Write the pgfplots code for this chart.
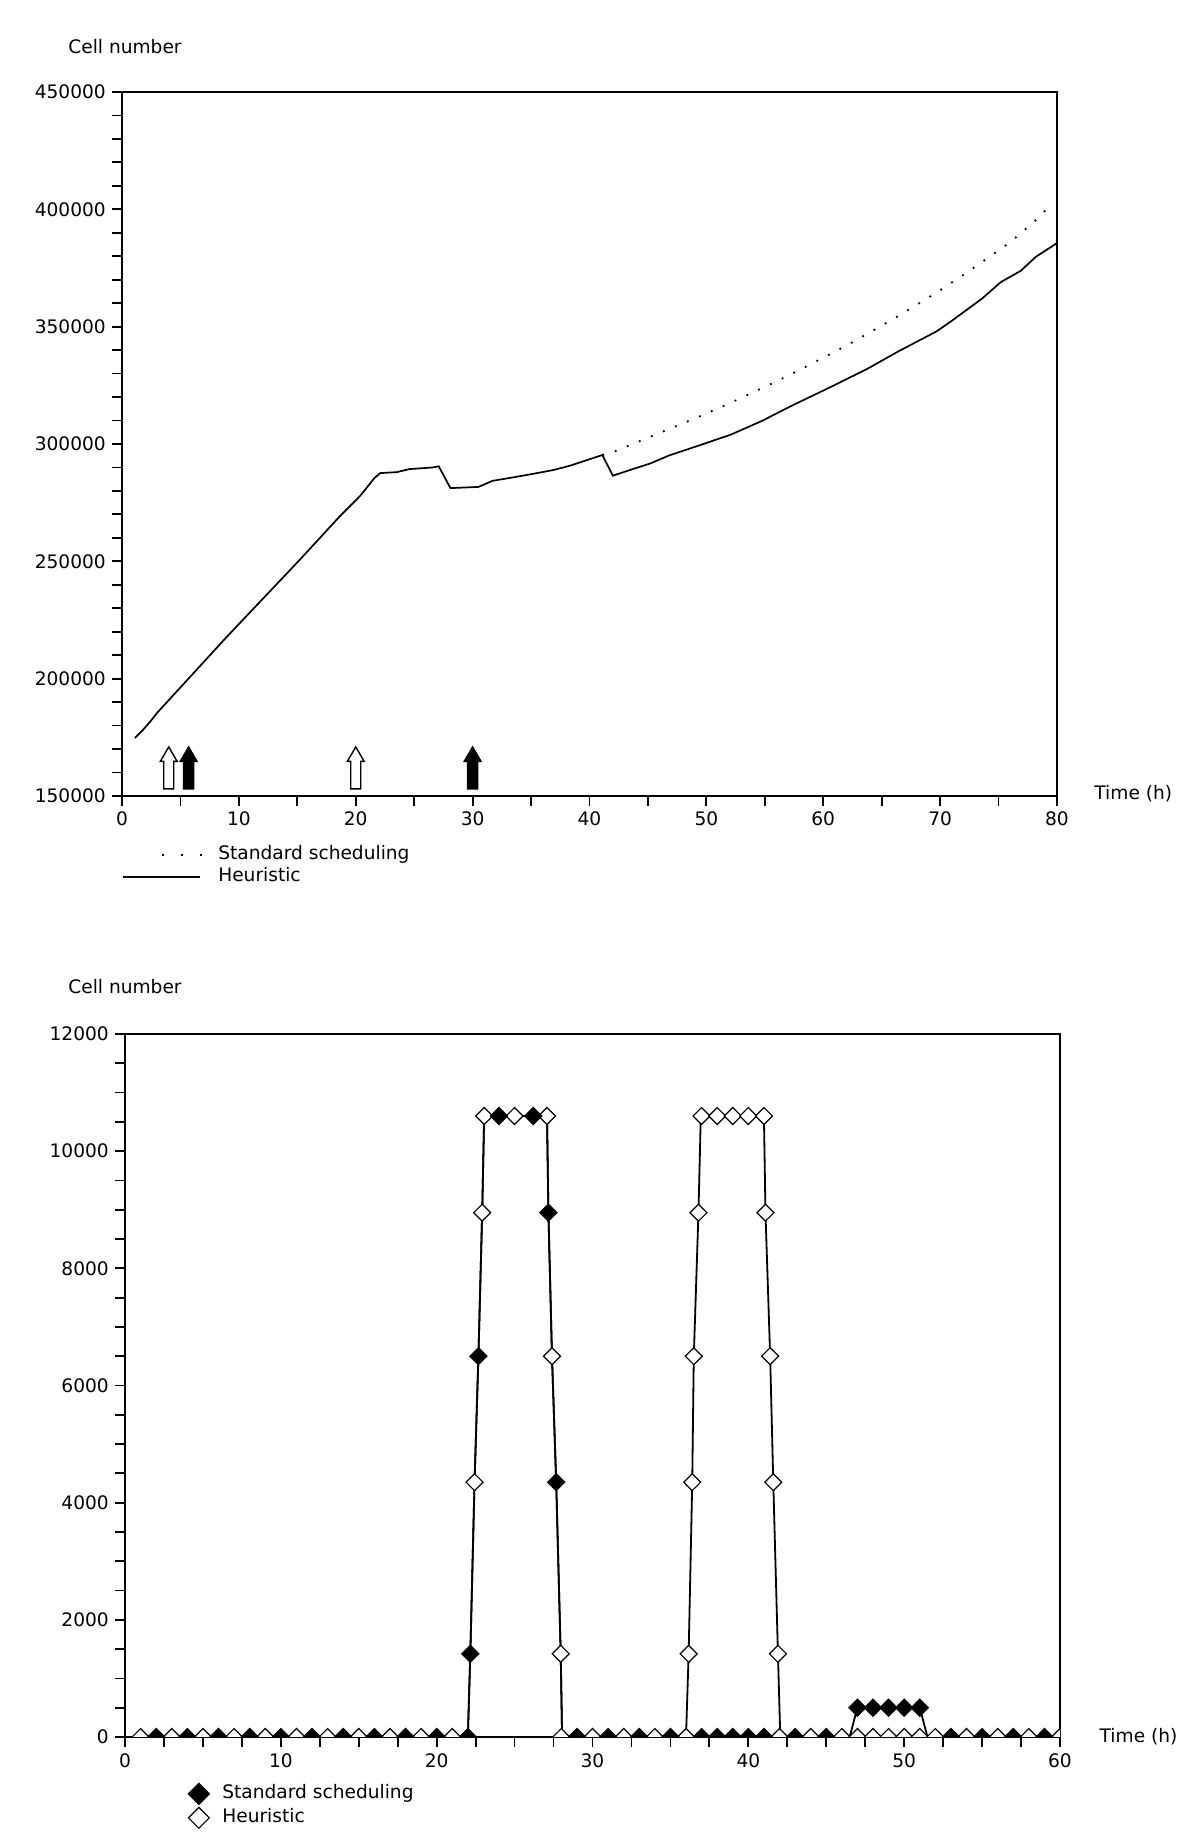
\documentclass[border=0pt]{standalone}
\usepackage{fontspec}
\setmainfont{DejaVu Sans}
\usepackage{pgfplots}
\pgfplotsset{compat=1.18}

\newcommand{\fs}{\fontsize{9.3}{11}\selectfont}

% block arrow used for the feeding times
\pgfdeclareplotmark{blockarrow}{%
  \pgfpathmoveto{\pgfqpoint{-2.5pt}{0pt}}%
  \pgfpathlineto{\pgfqpoint{2.5pt}{0pt}}%
  \pgfpathlineto{\pgfqpoint{2.5pt}{13.8pt}}%
  \pgfpathlineto{\pgfqpoint{4.2pt}{13.8pt}}%
  \pgfpathlineto{\pgfqpoint{0pt}{21pt}}%
  \pgfpathlineto{\pgfqpoint{-4.2pt}{13.8pt}}%
  \pgfpathlineto{\pgfqpoint{-2.5pt}{13.8pt}}%
  \pgfpathclose
  \pgfusepathqfillstroke}

\pgfplotsset{
  oldplot/.style={
    scale only axis, width=467.5pt,
    axis line style={line width=0.9pt},
    tick align=outside, xtick pos=bottom, ytick pos=left,
    major tick length=4.8pt, minor tick length=4.8pt,
    tick style={black, line width=0.9pt},
    scaled ticks=false,
    tick label style={font=\fs, /pgf/number format/fixed,
      /pgf/number format/precision=0, /pgf/number format/1000 sep={},
      /pgf/number format/assume math mode=true},
    clip marker paths=true,
    legend cell align=left,
  },
}

\begin{document}
\fs
\begin{tikzpicture}
\useasboundingbox (0pt,0pt) rectangle (600pt,921pt);

% ---------------- top: cell number over time
\begin{axis}[oldplot, at={(61pt,523pt)}, anchor=south west, height=352pt,
  xmin=0, xmax=80, ymin=150000, ymax=450000,
  xtick={0,10,20,30,40,50,60,70,80}, minor x tick num=1,
  ytick={150000,200000,250000,300000,350000,400000,450000}, minor y tick num=4,
  xlabel={Time (h)}, ylabel={Cell number},
  every axis y label/.style={at={(rel axis cs:-0.0578,1.064)}, anchor=west, inner sep=0pt},
  every axis x label/.style={at={(rel axis cs:1.0396,0.004)}, anchor=west, inner sep=0pt},
  legend style={draw=none, fill=none, at={(rel axis cs:0,0)}, anchor=north west,
    yshift=-25pt, inner xsep=0pt, inner ysep=0pt,
    nodes={inner sep=0pt, text height=6.5pt, text depth=2pt, font=\fs},
    row sep=2.5pt, column sep=7pt},
]
\addplot[black, line width=0.9pt, dash pattern=on 0.9pt off 5.6pt,
  legend image code/.code={\path[draw=none, fill=none] (0pt,0pt) -- (40pt,0pt);
    \draw[line width=1pt, dash pattern=on 1pt off 8.5pt] (19.5pt,0pt) -- (40pt,0pt);}]
  coordinates {
  (41.1,295300) (42.1,296700) (44.0,300600) (46.0,304700) (48.0,308800)
  (50.0,313000) (52.0,317400) (54.0,322000) (56.0,326700) (58.0,331600)
  (60.0,336800) (62.0,342000) (64.0,347600) (66.0,353300) (68.0,359300)
  (70.0,365500) (72.0,372100) (74.0,379000) (76.0,386000) (78.0,394500)
  (79.2,400500)
  };
\addlegendentry{Standard scheduling}
\addplot[black, line width=0.85pt,
  legend image code/.code={\path[draw=none, fill=none] (0pt,0pt) -- (40pt,0pt);
    \draw[line width=0.9pt, solid] (0pt,0pt) -- (38.5pt,0pt);}]
  coordinates {
  (1.1,174700) (1.8,178200) (2.4,181600) (3.0,185400) (9.0,218000)
  (15.2,250600) (18.6,269000) (20.4,278000) (21.6,285500) (22.1,287600)
  (23.5,288000) (24.6,289300) (26.6,290000) (27.1,290500) (28.1,281200)
  (30.5,281700) (31.7,284300) (33.5,285800) (35.2,287300) (36.9,288900)
  (38.3,290700) (39.4,292500) (41.1,295300) (42.0,286500) (43.4,288800)
  (45.2,291700) (46.8,295100) (49.1,298900) (52.1,304000) (54.7,309700)
  (57.3,316300) (60.6,324200) (63.8,332100) (66.4,339400) (69.7,348000)
  (71.0,352500) (73.6,362000) (75.2,369000) (76.9,373800) (78.2,379800)
  (80.0,385600)
  };
\addlegendentry{Heuristic}
% feeding times: open and filled arrows
\addplot[forget plot, only marks, mark=blockarrow,
  mark options={fill=white, draw=black, line width=0.7pt}]
  coordinates {(4.0,153000) (20.0,153000)};
\addplot[forget plot, only marks, mark=blockarrow,
  mark options={fill=black, draw=black, line width=0.7pt}]
  coordinates {(5.7,153000) (30.0,153000)};
\end{axis}

% ---------------- bottom: cells per step
\begin{axis}[oldplot, at={(62.5pt,52.5pt)}, anchor=south west, height=351.5pt,
  xmin=0, xmax=60, ymin=0, ymax=12000,
  xtick={0,10,20,30,40,50,60}, minor x tick num=3,
  ytick={0,2000,4000,6000,8000,10000,12000}, minor y tick num=3,
  xlabel={Time (h)}, ylabel={Cell number},
  every axis y label/.style={at={(rel axis cs:-0.061,1.067)}, anchor=west, inner sep=0pt},
  every axis x label/.style={at={(rel axis cs:1.042,0.0)}, anchor=west, inner sep=0pt},
  reverse legend,
  legend style={draw=none, fill=none, at={(rel axis cs:0,0)}, anchor=north west,
    xshift=31.5pt, yshift=-23pt, inner xsep=0pt, inner ysep=0pt,
    nodes={inner sep=0pt, text height=6.5pt, text depth=2pt, font=\fs},
    row sep=1.5pt, column sep=6.5pt},
  legend image post style={mark size=3.7pt},
]
% lines
\addplot[forget plot, black, line width=0.9pt] coordinates {
  (0,0) (22.0,0) (22.16,1420) (22.43,4350) (22.68,6500) (22.92,8950)
  (23.05,10600) (27.08,10600) (27.17,8950) (27.4,6500) (27.67,4350)
  (27.96,1420) (28.05,0) (46.5,0) (47,500) (51,500) (51.5,0) (60,0)
};
\addplot[forget plot, black, line width=0.9pt] coordinates {
  (0,0) (22.0,0) (22.16,1420) (22.43,4350) (22.68,6500) (22.92,8950)
  (23.05,10600) (27.08,10600) (27.17,8950) (27.4,6500) (27.67,4350)
  (27.96,1420) (28.05,0) (36.0,0) (36.17,1420) (36.4,4350) (36.5,6500)
  (36.8,8950) (36.95,10600) (41.0,10600) (41.1,8950) (41.4,6500)
  (41.6,4350) (41.9,1420) (42.05,0) (60,0)
};
% markers
\addplot[only marks, mark=square*, mark size=3pt,
  mark options={rotate=45, fill=white, draw=black, line width=0.6pt}]
  coordinates {
  (1,0) (3,0) (5,0) (7,0) (9,0) (11,0) (13,0) (15,0) (17,0) (19,0) (21,0)
  (22.43,4350) (22.92,8950) (23.05,10600) (25,10600) (27.08,10600)
  (27.4,6500) (27.96,1420) (28,0) (30,0) (32,0) (34,0) (36,0)
  (36.17,1420) (36.4,4350) (36.5,6500) (36.8,8950) (37,10600) (38,10600)
  (39,10600) (40,10600) (41,10600) (41.1,8950) (41.4,6500) (41.6,4350)
  (41.9,1420) (42,0) (44,0) (46,0) (47,0) (48,0) (49,0) (50,0) (51,0)
  (52,0) (54,0) (56,0) (58,0) (60,0)
  };
\addlegendentry{Heuristic}
\addplot[only marks, mark=square*, mark size=3pt,
  mark options={rotate=45, fill=black, draw=black, line width=0.6pt}]
  coordinates {
  (2,0) (4,0) (6,0) (8,0) (10,0) (12,0) (14,0) (16,0) (18,0) (20,0) (22,0)
  (22.16,1420) (22.68,6500) (24,10600) (26.2,10600) (27.17,8950)
  (27.67,4350) (29,0) (31,0) (33,0) (35,0) (37,0) (38,0) (39,0) (40,0)
  (41,0) (43,0) (45,0) (47,500) (48,500) (49,500) (50,500) (51,500)
  (53,0) (55,0) (57,0) (59,0)
  };
\addlegendentry{Standard scheduling}
\end{axis}
\end{tikzpicture}
\end{document}
